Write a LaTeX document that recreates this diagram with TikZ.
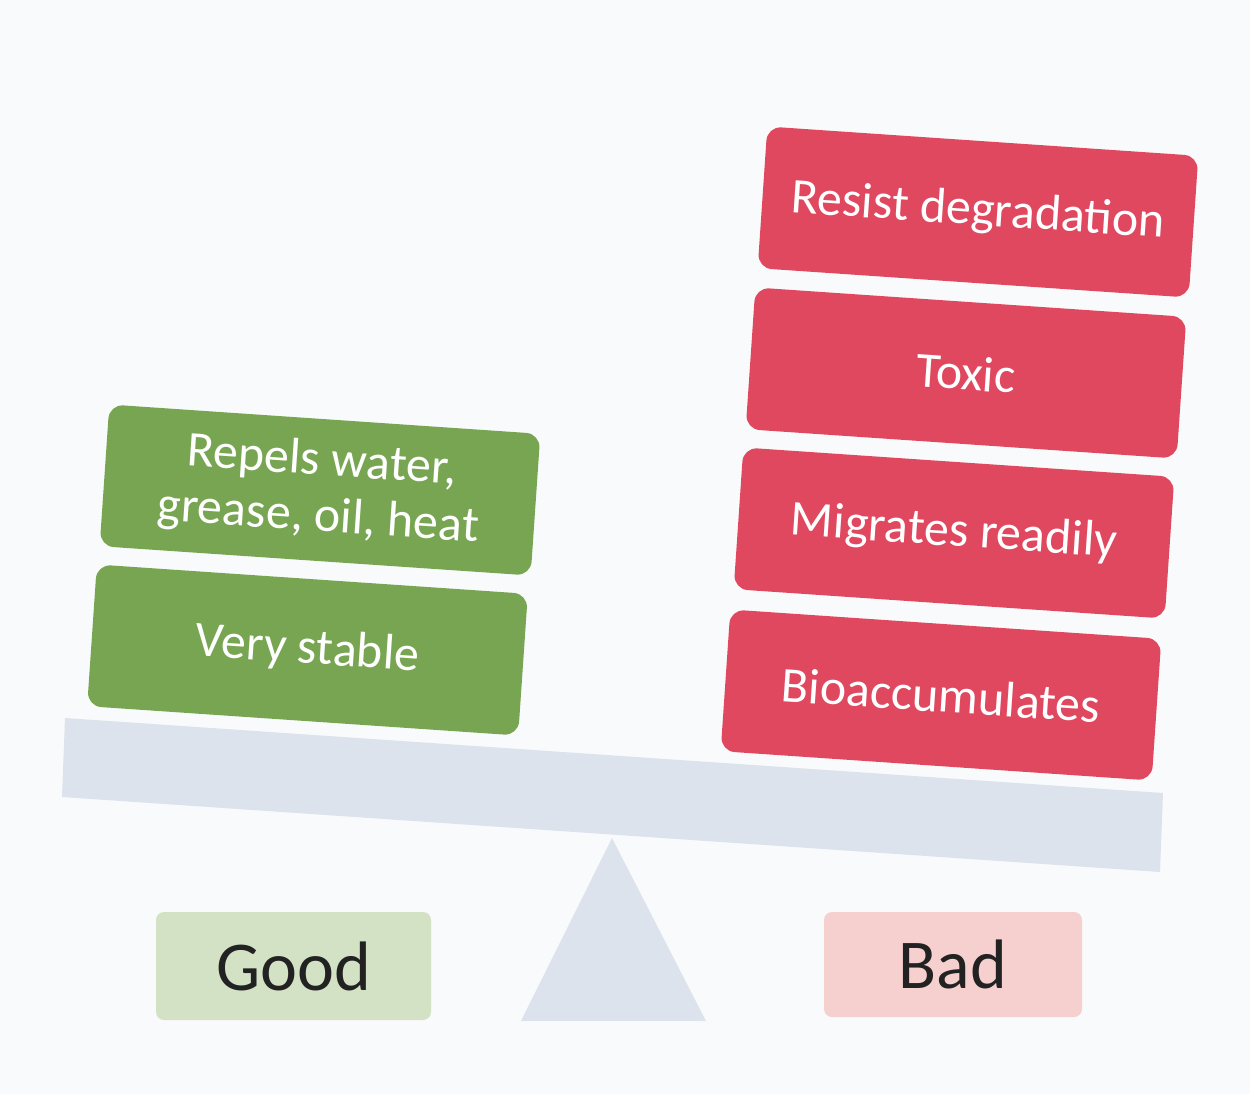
\documentclass[tikz,border=0pt]{standalone}
\usepackage{fontspec}
\setmainfont{Carlito}
\definecolor{bgc}{RGB}{249,250,251}
\definecolor{goodg}{RGB}{120,165,82}
\definecolor{badr}{RGB}{223,72,95}
\definecolor{beamc}{RGB}{220,227,237}
\definecolor{goodl}{RGB}{211,226,197}
\definecolor{badl}{RGB}{246,208,207}
\definecolor{labtxt}{RGB}{34,34,34}
\tikzset{
  card/.style={rounded corners=14pt, minimum width=432pt, minimum height=142pt,
    rotate=-3.9, text=white, font=\fontsize{50}{56}\selectfont, align=center, inner sep=0pt},
  goodcard/.style={card, fill=goodg},
  badcard/.style={card, fill=badr},
  legend/.style={rounded corners=8pt, text=labtxt, font=\fontsize{70}{80}\selectfont, inner sep=0pt}
}
\begin{document}
\begin{tikzpicture}[x=1pt,y=-1pt]
\useasboundingbox[fill=bgc] (0,0) rectangle (1250,1094);
% beam
\fill[beamc] (65,718) -- (1163,793) -- (1160,872) -- (62,797) -- cycle;
% fulcrum
\fill[beamc] (612,838) -- (706,1021) -- (521,1021) -- cycle;
% green cards
\node[goodcard] (stable) at (307.5,650) {Very stable};
\node[goodcard] (repels) at (320,490) {Repels water,\\grease, oil, heat};
% red cards
\node[badcard] (bio) at (941,695) {Bioaccumulates};
\node[badcard] (mig) at (954,533) {Migrates readily};
\node[badcard] (tox) at (966,373) {Toxic};
\node[badcard] (res) at (978,212) {Resist degradation};
% labels
\node[legend, fill=goodl, minimum width=275pt, minimum height=108pt] (good) at (293.5,966) {Good};
\node[legend, fill=badl, minimum width=258pt, minimum height=105pt] (bad) at (953,964.5) {Bad};
\end{tikzpicture}
\end{document}
